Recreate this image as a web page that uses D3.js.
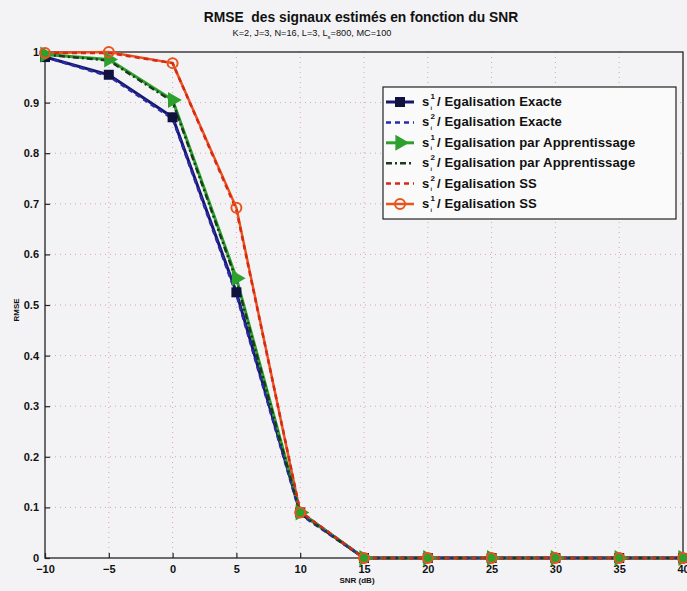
<!DOCTYPE html>
<html><head><meta charset="utf-8">
<script src="https://cdn.jsdelivr.net/npm/d3@7"></script>
<style>body{margin:0;background:#f3f3f5;}svg{display:block;font-family:"Liberation Sans",Arial,sans-serif;}</style>
</head><body>
<script>
const snr = [-10,-5,0,5,10,15,20,25,30,35,40];
const s1Exacte = [0.99,0.955,0.871,0.525,0.09,0,0,0,0,0,0];
const s2Exacte = [0.99,0.952,0.868,0.52,0.086,0,0,0,0,0,0];
const s1App = [0.995,0.985,0.905,0.553,0.09,0,0,0,0,0,0];
const s2App = [0.995,0.983,0.902,0.548,0.088,0,0,0,0,0,0];
const s2SS = [0.998,0.998,0.978,0.688,0.092,0,0,0,0,0,0];
const s1SS = [0.998,1.0,0.978,0.692,0.09,0,0,0,0,0,0];
const xTicks = [-10,-5,0,5,10,15,20,25,30,35,40];
const yTicks = [0,0.1,0.2,0.3,0.4,0.5,0.6,0.7,0.8,0.9,1];
const title = "RMSE\u00a0 des signaux estimés en fonction du SNR";
const legendLabels = ["Egalisation Exacte","Egalisation Exacte","Egalisation par Apprentissage","Egalisation par Apprentissage","Egalisation SS","Egalisation SS"];
const legendSup = ["1","2","1","2","2","1"];

const W=687,H=591;
const svg=d3.select("body").append("svg").attr("width",W).attr("height",H);
svg.append("rect").attr("width",W).attr("height",H).attr("fill","#f3f3f5");
const x=d3.scaleLinear().domain([-10,40]).range([45,683]);
const y=d3.scaleLinear().domain([0,1]).range([558,52]);

// grid
const g=svg.append("g");
xTicks.slice(1,-1).forEach(t=>g.append("line").attr("x1",x(t)).attr("x2",x(t)).attr("y1",y(0)).attr("y2",y(1)).attr("stroke","#d8a4ac").attr("stroke-width",1).attr("stroke-dasharray","1,4"));
yTicks.slice(1,-1).forEach(t=>g.append("line").attr("x1",x(-10)).attr("x2",x(40)).attr("y1",y(t)).attr("y2",y(t)).attr("stroke","#d8a4ac").attr("stroke-width",1).attr("stroke-dasharray","1,4"));

// frame
svg.append("rect").attr("x",x(-10)).attr("y",y(1)).attr("width",x(40)-x(-10)).attr("height",y(0)-y(1)).attr("fill","none").attr("stroke","#222").attr("stroke-width",1.3);

const xAxis=svg.append("g").attr("transform",`translate(0,${y(0)})`).call(d3.axisBottom(x).tickValues(xTicks).tickSize(-5).tickPadding(9).tickFormat(d=>d<0?"\u2212"+Math.abs(d):d));
const yAxis=svg.append("g").attr("transform",`translate(${x(-10)},0)`).call(d3.axisLeft(y).tickValues(yTicks).tickSize(-5).tickPadding(6).tickFormat(d=>d));
[xAxis,yAxis].forEach(a=>{a.select(".domain").remove();a.selectAll("line").attr("stroke","#222").attr("stroke-width",1.2);a.selectAll("text").attr("font-size",11).attr("font-weight","bold").attr("fill","#111");});
xAxis.selectAll("text").attr("dy","0.5em");

svg.append("text").attr("x",361).attr("y",22).attr("text-anchor","middle").attr("font-size",13.8).attr("font-weight","bold").attr("fill","#111").text(title);
const sub=svg.append("text").attr("x",312).attr("y",36).attr("text-anchor","middle").attr("font-size",9.2).attr("fill","#111");
sub.append("tspan").text("K=2, J=3, N=16, L=3, L");
sub.append("tspan").attr("font-size",6).attr("dy",3).text("s");
sub.append("tspan").attr("dy",-3).text("=800, MC=100");
svg.append("text").attr("x",357).attr("y",583).attr("text-anchor","middle").attr("font-size",8).attr("font-weight","bold").attr("fill","#111").text("SNR (dB)");
svg.append("text").attr("transform","translate(19,310) rotate(-90)").attr("text-anchor","middle").attr("font-size",8).attr("font-weight","bold").attr("fill","#111").text("RMSE");

const series=[
 {v:s1Exacte,c:"#18186a",dash:null,w:3,m:"square",mc:"#111140"},
 {v:s2Exacte,c:"#2a2ab0",dash:"5,4",w:2.5,m:null},
 {v:s1App,c:"#2ea02e",dash:null,w:3,m:"tri",mc:"#2ea02e"},
 {v:s2App,c:"#1b3b1b",dash:"6,3,2,3",w:2.5,m:null},
 {v:s2SS,c:"#d82818",dash:"5,4",w:2.5,m:null},
 {v:s1SS,c:"#e8541c",dash:null,w:2.5,m:"circle",mc:"#e8541c"}
];
const line=d3.line().x((d,i)=>x(snr[i])).y(d=>y(d));
const order=[5,0,2,1,3,4];
order.forEach(k=>{const s=series[k];
 svg.append("path").attr("d",line(s.v)).attr("fill","none").attr("stroke",s.c).attr("stroke-width",s.w).attr("stroke-dasharray",s.dash);
});
function marker(sel,s,cx,cy){
 if(s.m==="square") sel.append("rect").attr("x",cx-5).attr("y",cy-5).attr("width",10).attr("height",10).attr("fill",s.mc);
 if(s.m==="tri") sel.append("path").attr("d",d3.symbol(d3.symbolTriangle,110)()).attr("transform",`translate(${cx},${cy}) rotate(90)`).attr("fill",s.mc);
 if(s.m==="circle") sel.append("circle").attr("cx",cx).attr("cy",cy).attr("r",5).attr("fill","none").attr("stroke",s.mc).attr("stroke-width",2);
}
[0,2,5].forEach(k=>{const s=series[k];s.v.forEach((v,i)=>marker(svg,s,x(snr[i]),y(v)));});

// legend
const lg=svg.append("g");
lg.append("rect").attr("x",383).attr("y",87).attr("width",293).attr("height",132).attr("fill","#fafafa").attr("stroke","#222").attr("stroke-width",1.2);
series.forEach((s,i)=>{const yy=102+i*20.4;
 lg.append("line").attr("x1",386).attr("x2",414).attr("y1",yy).attr("y2",yy).attr("stroke",s.c).attr("stroke-width",s.w).attr("stroke-dasharray",s.dash);
 marker(lg,s,400,yy);
 lg.append("text").attr("x",422).attr("y",yy+4).attr("font-size",13).attr("font-weight","bold").attr("fill","#111").text("s");
 lg.append("text").attr("x",430.5).attr("y",yy-3).attr("font-size",8).attr("font-weight","bold").attr("fill","#111").text(legendSup[i]);
 lg.append("text").attr("x",430.5).attr("y",yy+7.5).attr("font-size",5.5).attr("font-weight","bold").attr("fill","#111").text("i");
 lg.append("text").attr("x",437).attr("y",yy+4).attr("font-size",13.1).attr("font-weight","bold").attr("letter-spacing",0.1).attr("fill","#111").text("/ "+legendLabels[i]);
});
</script>
</body></html>
